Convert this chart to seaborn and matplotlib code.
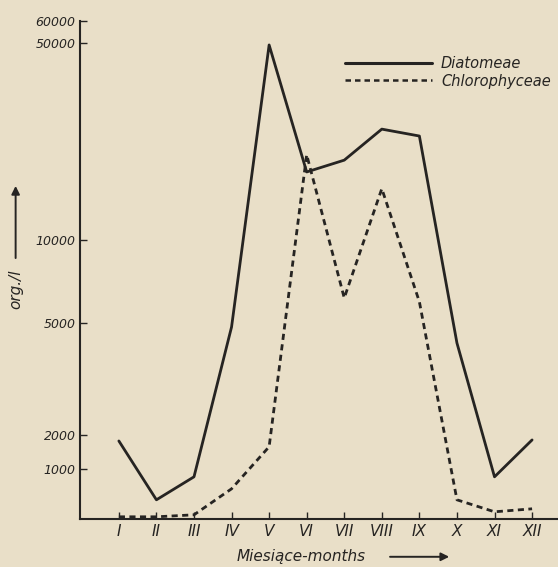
import matplotlib
matplotlib.use('Agg')
import matplotlib.pyplot as plt
from matplotlib.lines import Line2D
import numpy as np
import pandas as pd
import seaborn as sns

months = ['I', 'II', 'III', 'IV', 'V', 'VI', 'VII', 'VIII', 'IX', 'X', 'XI', 'XII']
diatomeae = [1820, 380, 840, 4890, 49600, 23800, 26200, 32500, 31100, 4460, 840, 1850]
chlorophyceae = [40, 40, 80, 600, 1650, 27300, 6500, 20400, 6270, 380, 140, 200]

ytick_values = [1000, 2000, 5000, 10000, 50000, 60000]

# the hand-drawn axis is neither linear nor log, so map tick values to heights
scale_vals = np.array([0, 1000, 2000, 5000, 10000, 50000, 60000], dtype=float)
scale_pos = np.array([0, 50, 84, 196, 279, 476, 498], dtype=float)


def forward(v):
    return np.interp(v, scale_vals, scale_pos)


def inverse(h):
    return np.interp(h, scale_pos, scale_vals)


df = pd.DataFrame({
    'month': np.arange(1, 13).tolist() * 2,
    'value': diatomeae + chlorophyceae,
    'group': ['Diatomeae'] * 12 + ['Chlorophyceae'] * 12,
})

sns.set_style('ticks')
plt.rcParams['font.family'] = ['DejaVu Sans']

paper = '#e9dfc8'
ink = '#262422'

fig = plt.figure(figsize=(5.58, 5.67), dpi=100, facecolor=paper)
ax = fig.add_axes([0.143, 0.085, 0.857, 0.878])
ax.set_facecolor(paper)

sns.lineplot(data=df, x='month', y='value', hue='group', style='group',
             palette={'Diatomeae': ink, 'Chlorophyceae': ink},
             dashes={'Diatomeae': '', 'Chlorophyceae': (2.2, 1.6)},
             linewidth=2.0, ax=ax, legend=False)

ax.set_yscale('function', functions=(forward, inverse))
ax.set_ylim(0, 60000)
ax.set_xlim(-0.04, 12.69)

ax.set_yticks(ytick_values)
ax.set_yticklabels([str(v) for v in ytick_values], fontsize=9, style='italic', color=ink)
ax.set_xticks(np.arange(1, 13))
ax.set_xticklabels(months, fontsize=11, style='italic', color=ink)
ax.minorticks_off()
ax.tick_params(axis='both', direction='in', length=5, width=1, color=ink)
ax.tick_params(axis='x', pad=4)
ax.tick_params(axis='y', pad=3)

for s in ['top', 'right']:
    ax.spines[s].set_visible(False)
for s in ['left', 'bottom']:
    ax.spines[s].set_color(ink)
    ax.spines[s].set_linewidth(1.5)

ax.set_xlabel('')
ax.set_ylabel('')

handles = [Line2D([], [], color=ink, lw=2.2),
           Line2D([], [], color=ink, lw=1.8, ls=(0, (2.2, 1.6)))]
leg = ax.legend(handles, ['Diatomeae', 'Chlorophyceae'], loc='upper right',
                bbox_to_anchor=(1.0, 0.945), frameon=False, handlelength=6.0,
                handletextpad=0.6, labelspacing=0.2,
                prop={'size': 10.5, 'style': 'italic'}, borderaxespad=0.1)
for t in leg.get_texts():
    t.set_color(ink)

# axis titles with arrows
fig.text(0.028, 0.49, 'org./l', rotation=90, fontsize=11, style='italic',
         color=ink, ha='center', va='center')
ax.annotate('', xy=(0.028, 0.677), xytext=(0.028, 0.54), xycoords='figure fraction',
            arrowprops=dict(arrowstyle='-|>', color=ink, lw=1.4, mutation_scale=12))
fig.text(0.54, 0.018, 'Miesiące-months', fontsize=11, style='italic',
         color=ink, ha='center', va='center')
ax.annotate('', xy=(0.81, 0.018), xytext=(0.694, 0.018), xycoords='figure fraction',
            arrowprops=dict(arrowstyle='-|>', color=ink, lw=1.4, mutation_scale=12))

fig.savefig('out.png', dpi=100, facecolor=paper)
